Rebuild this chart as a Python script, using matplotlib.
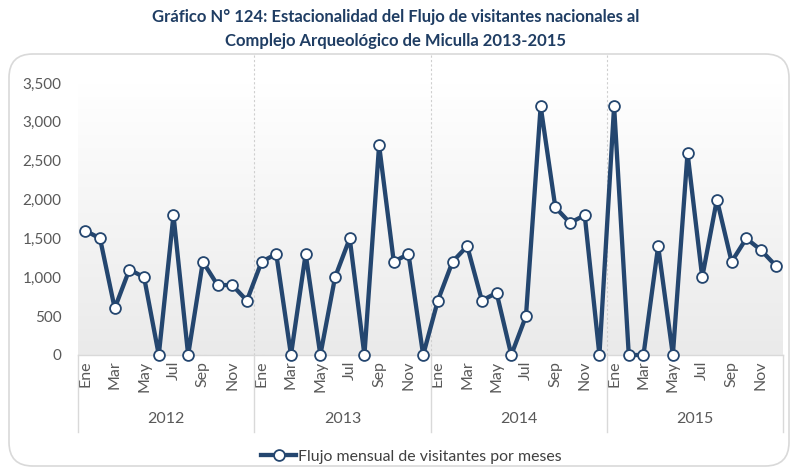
import numpy as np
import matplotlib.pyplot as plt
import matplotlib as mpl
from matplotlib.patches import FancyBboxPatch
from matplotlib.lines import Line2D

mpl.rcParams['font.family'] = ['Lato', 'DejaVu Sans']

years = ['2012', '2013', '2014', '2015']
months = ['Ene', 'Feb', 'Mar', 'Abr', 'May', 'Jun', 'Jul', 'Ago', 'Sep', 'Oct', 'Nov', 'Dic']
v2012 = [1600, 1500, 600, 1100, 1000, 0, 1800, 0, 1200, 900, 900, 700]
v2013 = [1200, 1300, 0, 1300, 0, 1000, 1500, 0, 2700, 1200, 1300, 0]
v2014 = [700, 1200, 1400, 700, 800, 0, 500, 3200, 1900, 1700, 1800, 0]
v2015 = [3200, 0, 0, 1400, 0, 2600, 1000, 2000, 1200, 1500, 1350, 1150]

values = v2012 + v2013 + v2014 + v2015
x = np.arange(len(values))

line_color = '#24466F'
text_color = '#595959'
grid_color = '#D9D9D9'

W, H = 791, 468
fig = plt.figure(figsize=(W / 100, H / 100), dpi=100)

# outer rounded frame
frame = FancyBboxPatch((9 / W, 2 / H), 780 / W, 412 / H,
                       boxstyle='round,pad=0,rounding_size=0.03',
                       transform=fig.transFigure, fc='none', ec=grid_color, lw=1.2,
                       mutation_aspect=W / H, zorder=-5)
fig.patches.append(frame)

fig.text(0.5, 1 - 17 / H, 'Gráfico N° 124: Estacionalidad del Flujo de visitantes nacionales al',
         ha='center', va='center', fontsize=12, fontweight='bold', color='#1F3D63')
fig.text(0.5, 1 - 41 / H, 'Complejo Arqueológico de Miculla 2013-2015',
         ha='center', va='center', fontsize=12, fontweight='bold', color='#1F3D63')

ax_l, ax_r = 78 / W, 783 / W
ax_b, ax_t = 1 - 355 / H, 1 - 83 / H
ax = fig.add_axes((ax_l, ax_b, ax_r - ax_l, ax_t - ax_b))
ax.patch.set_visible(False)

# gradient background
grad = np.linspace(0, 1, 256).reshape(-1, 1)
cmap = mpl.colors.LinearSegmentedColormap.from_list('g', ['#EAEAEA', '#FFFFFF'])
ax.imshow(grad, aspect='auto', cmap=cmap, origin='lower',
          extent=(-0.5, len(values) - 0.5, 0, 3500), zorder=0)

ax.plot(x, values, color=line_color, lw=3.1, marker='o', ms=7.8,
        mfc='white', mec=line_color, mew=1.3, zorder=5, clip_on=False)

ax.set_xlim(-0.5, len(values) - 0.5)
ax.set_ylim(0, 3500)
ax.set_yticks(np.arange(0, 3501, 500))
ax.set_yticklabels([f'{v:,}' for v in range(0, 3501, 500)])
ax.tick_params(axis='y', length=0, pad=12, labelsize=11, labelcolor=text_color)

ax.set_xticks(x[::2])
ax.set_xticklabels([months[i % 12] for i in x[::2]], rotation=90)
ax.tick_params(axis='x', length=0, pad=4, labelsize=11.5, labelcolor=text_color)

for s in ['top', 'right', 'left']:
    ax.spines[s].set_visible(False)
ax.spines['bottom'].set_color(grid_color)
ax.spines['bottom'].set_linewidth(1)

# year separators
for k in range(1, len(years)):
    ax.plot([12 * k - 0.5] * 2, [0, 1.105], transform=ax.get_xaxis_transform(),
            color='#CFCFCF', lw=0.8, ls=(0, (2, 2)), clip_on=False, zorder=1)
for k in range(len(years) + 1):
    ax.plot([12 * k - 0.5] * 2, [0, -(432 - 355) / (355 - 83)],
            transform=ax.get_xaxis_transform(), color=grid_color, lw=1, clip_on=False)
for k, yr in enumerate(years):
    ax.text(12 * k + 5.5, -(419 - 355) / (355 - 83), yr, transform=ax.get_xaxis_transform(),
            ha='center', va='center', fontsize=11.5, color=text_color)

handle = Line2D([], [], color=line_color, lw=3.1, marker='o', ms=7.8,
                mfc='white', mec=line_color, mew=1.3)
fig.legend([handle], ['Flujo mensual de visitantes por meses'], loc='center',
           bbox_to_anchor=(0.52, 1 - 457 / H), frameon=False, fontsize=11.4,
           labelcolor='#404040', handlelength=2.2, handletextpad=0.1)

fig.savefig('out.png', dpi=100)
